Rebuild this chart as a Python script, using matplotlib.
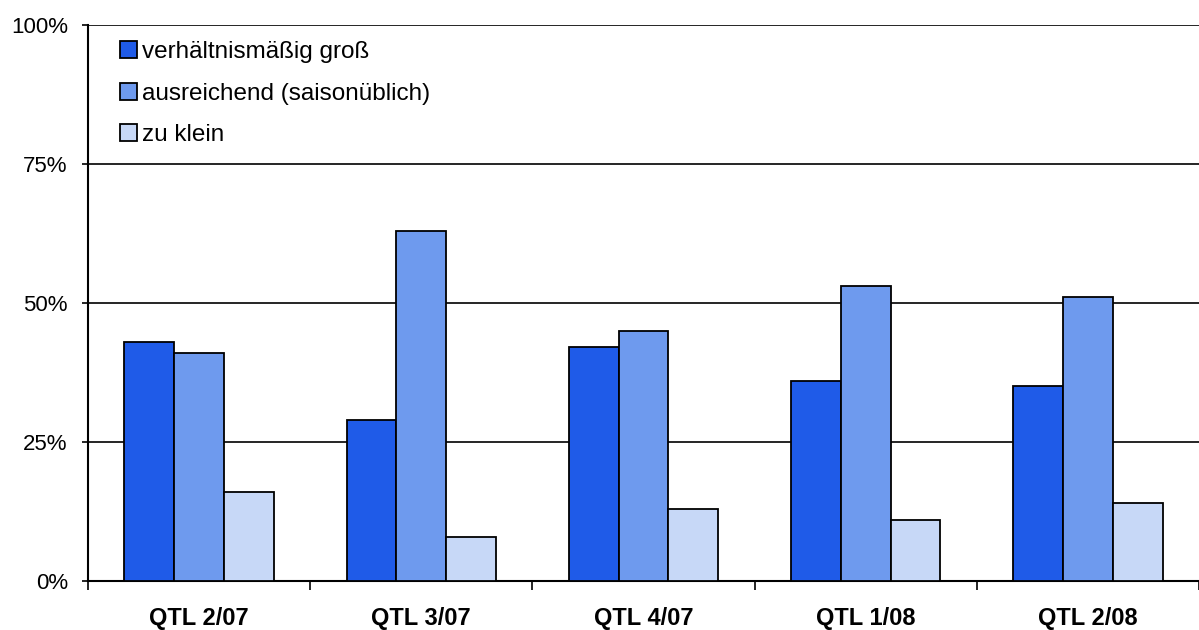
import matplotlib
matplotlib.use("Agg")
import matplotlib.pyplot as plt
import numpy as np
from matplotlib.patches import Patch

categories = ["QTL 2/07", "QTL 3/07", "QTL 4/07", "QTL 1/08", "QTL 2/08"]
series_names = ["verhältnismäßig groß", "ausreichend (saisonüblich)", "zu klein"]
gross = [43, 29, 42, 36, 35]
ausreichend = [41, 63, 45, 53, 51]
klein = [16, 8, 13, 11, 14]
y_ticks = [0, 25, 50, 75, 100]
y_tick_labels = ["0%", "25%", "50%", "75%", "100%"]

colors = ["#1F5BE8", "#6E9AEE", "#C7D8F7"]

plt.rcParams["font.family"] = ["Liberation Sans", "DejaVu Sans"]

fig = plt.figure(figsize=(11.99, 6.30), dpi=100)
ax = fig.add_axes([88 / 1199, 1 - 581 / 630, 1 - 88 / 1199, (581 - 25) / 630])

x = np.arange(len(categories))
w = 0.224
for i, (vals, col) in enumerate(zip([gross, ausreichend, klein], colors)):
    ax.bar(x + (i - 1) * w, vals, width=w, color=col, edgecolor="black",
           linewidth=1.3, zorder=3, label=series_names[i])

ax.set_xlim(-0.5, len(categories) - 0.5)
ax.set_ylim(0, 100)
ax.set_yticks(y_ticks)
ax.set_yticklabels(y_tick_labels, fontsize=16)
ax.yaxis.grid(True, color="black", linewidth=1.2, zorder=0)

ax.set_xticks(x)
ax.set_xticklabels(categories, fontsize=17, fontweight="bold")
ax.set_xticks(np.arange(len(categories) + 1) - 0.5, minor=True)
ax.tick_params(axis="x", which="major", length=0, pad=19)
ax.tick_params(axis="x", which="minor", length=6.5, width=1.2, direction="out")
ax.tick_params(axis="y", length=4.5, width=1.2, direction="out", pad=10)

for s in ["top", "right"]:
    ax.spines[s].set_visible(False)
ax.spines["left"].set_linewidth(1.5)
ax.spines["bottom"].set_linewidth(1.5)

handles = [Patch(facecolor=c, edgecolor="black", linewidth=1.3) for c in colors]
leg = ax.legend(handles, series_names, loc="upper left", bbox_to_anchor=(0.020, 0.988),
                frameon=False, fontsize=17.5, handlelength=0.7, handleheight=0.7,
                handletextpad=0.2, labelspacing=0.8, borderaxespad=0)

fig.savefig("out.png", dpi=100)
